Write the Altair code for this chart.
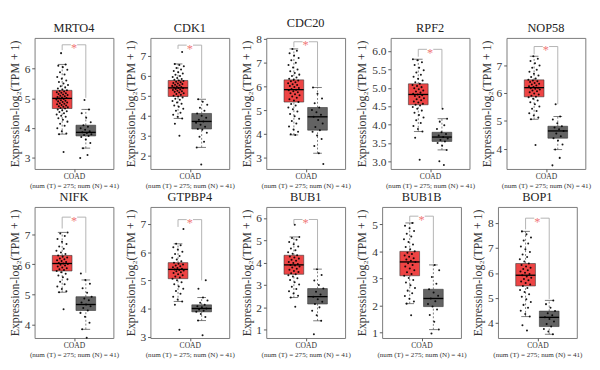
import altair as alt
import pandas as pd

genes = ["MRTO4", "CDK1", "CDC20", "RPF2", "NOP58", "NIFK", "GTPBP4", "BUB1", "BUB1B", "BOP1"]

# y-axis ranges and tick values
y_min = [2.63, 1.34, 2.54, 2.79, 3.27, 3.54, 2.95, 0.63, 0.80, 3.39]
y_max = [7.03, 7.90, 8.04, 6.36, 7.99, 7.92, 7.61, 6.49, 5.64, 8.65]
y_ticks = [
    [3, 4, 5, 6], [2, 3, 4, 5, 6, 7], [3, 4, 5, 6, 7, 8],
    [3.0, 3.5, 4.0, 4.5, 5.0, 5.5, 6.0], [4, 5, 6, 7], [4, 5, 6, 7],
    [3, 4, 5, 6, 7], [1, 2, 3, 4, 5, 6], [1, 2, 3, 4, 5], [4, 5, 6, 7, 8],
]
y_fmt = ["d", "d", "d", ".1f", "d", "d", "d", "d", "d", "d"]

# box statistics: tumor (T) and normal (N)
t_lo = [3.80, 3.87, 3.97, 3.81, 5.06, 5.07, 4.25, 2.44, 2.07, 4.25]
t_q1 = [4.66, 4.97, 5.35, 4.54, 5.87, 5.78, 5.06, 3.48, 3.10, 5.48]
t_med = [5.00, 5.40, 5.87, 4.82, 6.20, 6.03, 5.39, 3.90, 3.61, 5.91]
t_q3 = [5.27, 5.77, 6.28, 5.11, 6.48, 6.30, 5.63, 4.33, 4.00, 6.38]
t_hi = [6.14, 6.60, 7.58, 5.78, 7.33, 7.07, 6.30, 5.15, 5.05, 7.67]
n_lo = [3.33, 2.42, 3.20, 3.31, 3.97, 3.83, 3.57, 1.40, 1.11, 3.54]
n_q1 = [3.74, 3.34, 4.17, 3.54, 4.38, 4.46, 3.88, 2.15, 1.96, 3.85]
n_med = [3.86, 3.72, 4.73, 3.66, 4.64, 4.66, 4.00, 2.48, 2.26, 4.22]
n_q3 = [4.10, 4.12, 5.12, 3.79, 4.81, 4.92, 4.13, 2.84, 2.60, 4.47]
n_hi = [4.63, 4.83, 5.96, 4.16, 5.16, 5.48, 4.39, 3.71, 3.50, 4.90]

# significance bracket (data units)
br_y = [6.80, 7.54, 7.88, 6.05, 7.68, 7.58, 7.16, 5.93, 5.30, 8.20]
br_left = [6.62, 7.35, 7.65, 5.85, 7.40, 7.20, 6.90, 5.72, 5.10, 7.75]
br_right = [5.02, 4.88, 6.00, 4.45, 5.60, 5.72, 5.00, 3.75, 3.55, 4.95]

# sample values
tumor_vals = [
    [3.2, 3.8, 3.82, 3.9, 4.0, 4.08, 4.15, 4.22, 4.28, 4.33, 4.38, 4.42, 4.46, 4.5, 4.54, 4.57, 4.6, 4.63, 4.66,
     4.68, 4.7, 4.72, 4.74, 4.76, 4.78, 4.8, 4.82, 4.84, 4.86, 4.88, 4.9, 4.92, 4.94, 4.96, 4.98, 5.0, 5.01, 5.03,
     5.05, 5.07, 5.09, 5.11, 5.13, 5.15, 5.17, 5.19, 5.21, 5.23, 5.25, 5.27, 5.3, 5.33, 5.37, 5.41, 5.45, 5.5, 5.55,
     5.6, 5.66, 5.72, 5.8, 5.88, 5.96, 6.05, 6.1, 6.14, 6.52],
    [3.0, 3.6, 3.87, 3.95, 4.05, 4.15, 4.25, 4.35, 4.45, 4.52, 4.6, 4.67, 4.74, 4.8, 4.86, 4.92, 4.97, 5.01, 5.05,
     5.09, 5.13, 5.17, 5.2, 5.23, 5.26, 5.29, 5.32, 5.35, 5.38, 5.4, 5.42, 5.44, 5.47, 5.5, 5.53, 5.56, 5.59, 5.62,
     5.65, 5.68, 5.71, 5.74, 5.77, 5.81, 5.85, 5.9, 5.95, 6.0, 6.06, 6.12, 6.18, 6.25, 6.32, 6.4, 6.48, 6.55, 6.6, 7.2],
    [3.97, 4.0, 4.1, 4.2, 4.32, 4.45, 4.55, 4.65, 4.75, 4.85, 4.95, 5.05, 5.12, 5.2, 5.27, 5.35, 5.41, 5.47, 5.53,
     5.58, 5.63, 5.68, 5.72, 5.76, 5.8, 5.84, 5.87, 5.9, 5.94, 5.98, 6.02, 6.06, 6.1, 6.14, 6.18, 6.22, 6.25, 6.28,
     6.33, 6.38, 6.44, 6.5, 6.57, 6.64, 6.72, 6.8, 6.9, 7.0, 7.1, 7.2, 7.3, 7.4, 7.5, 7.58],
    [3.04, 3.64, 3.81, 3.88, 3.96, 4.04, 4.12, 4.19, 4.26, 4.32, 4.38, 4.43, 4.48, 4.52, 4.54, 4.57, 4.6, 4.63,
     4.66, 4.69, 4.72, 4.75, 4.78, 4.8, 4.82, 4.84, 4.87, 4.9, 4.93, 4.96, 4.99, 5.02, 5.05, 5.08, 5.11, 5.15, 5.2,
     5.25, 5.3, 5.36, 5.42, 5.48, 5.55, 5.62, 5.7, 5.75, 5.78],
    [4.13, 5.06, 5.12, 5.2, 5.28, 5.36, 5.44, 5.52, 5.6, 5.67, 5.74, 5.8, 5.85, 5.87, 5.91, 5.95, 5.99, 6.03, 6.07,
     6.1, 6.13, 6.16, 6.18, 6.2, 6.22, 6.25, 6.28, 6.31, 6.34, 6.37, 6.4, 6.43, 6.46, 6.48, 6.53, 6.58, 6.64, 6.7,
     6.77, 6.84, 6.92, 7.0, 7.08, 7.16, 7.24, 7.33],
    [4.5, 5.07, 5.1, 5.18, 5.26, 5.34, 5.42, 5.5, 5.57, 5.63, 5.69, 5.74, 5.78, 5.81, 5.84, 5.87, 5.9, 5.93, 5.96,
     5.99, 6.01, 6.03, 6.05, 6.08, 6.11, 6.14, 6.17, 6.2, 6.23, 6.26, 6.3, 6.35, 6.4, 6.46, 6.52, 6.6, 6.68, 6.76,
     6.85, 6.95, 7.03, 7.07],
    [3.24, 4.13, 4.25, 4.32, 4.42, 4.52, 4.62, 4.7, 4.78, 4.86, 4.93, 5.0, 5.06, 5.1, 5.14, 5.18, 5.22, 5.26, 5.29,
     5.32, 5.35, 5.37, 5.39, 5.41, 5.44, 5.47, 5.5, 5.53, 5.56, 5.59, 5.63, 5.68, 5.74, 5.8, 5.87, 5.94, 6.02, 6.1,
     6.18, 6.25, 6.3, 6.83],
    [2.03, 2.44, 2.52, 2.62, 2.72, 2.82, 2.92, 3.02, 3.12, 3.22, 3.3, 3.38, 3.44, 3.48, 3.53, 3.58, 3.63, 3.68,
     3.73, 3.78, 3.83, 3.87, 3.9, 3.94, 3.98, 4.03, 4.08, 4.13, 4.18, 4.23, 4.28, 4.33, 4.4, 4.47, 4.55, 4.63, 4.72,
     4.82, 4.92, 5.02, 5.1, 5.15, 5.7],
    [1.64, 2.07, 2.15, 2.25, 2.35, 2.45, 2.55, 2.65, 2.75, 2.85, 2.94, 3.02, 3.1, 3.16, 3.23, 3.3, 3.37, 3.44, 3.5,
     3.56, 3.61, 3.65, 3.7, 3.75, 3.8, 3.85, 3.9, 3.95, 4.0, 4.08, 4.16, 4.25, 4.35, 4.45, 4.55, 4.65, 4.75, 4.85,
     4.95, 5.05],
    [3.69, 3.9, 4.25, 4.35, 4.48, 4.6, 4.72, 4.84, 4.95, 5.05, 5.15, 5.24, 5.32, 5.4, 5.48, 5.54, 5.6, 5.66, 5.71,
     5.76, 5.81, 5.86, 5.91, 5.96, 6.01, 6.06, 6.11, 6.16, 6.21, 6.26, 6.32, 6.38, 6.46, 6.55, 6.64, 6.74, 6.84,
     6.95, 7.06, 7.18, 7.3, 7.42, 7.55, 7.67],
]
normal_vals = [
    [3.0, 3.1, 3.33, 3.5, 3.62, 3.7, 3.74, 3.77, 3.8, 3.84, 3.86, 3.9, 3.95, 4.0, 4.05, 4.1, 4.2, 4.35, 4.5, 4.63, 4.95],
    [1.57, 2.42, 2.7, 2.95, 3.15, 3.3, 3.34, 3.45, 3.55, 3.65, 3.72, 3.8, 3.9, 4.0, 4.12, 4.25, 4.4, 4.55, 4.7, 4.83],
    [2.75, 3.2, 3.5, 3.8, 3.95, 4.1, 4.17, 4.3, 4.45, 4.6, 4.73, 4.82, 4.92, 5.02, 5.12, 5.3, 5.5, 5.7, 5.96],
    [2.9, 3.0, 3.31, 3.42, 3.5, 3.54, 3.58, 3.62, 3.66, 3.7, 3.74, 3.79, 3.88, 3.98, 4.08, 4.16, 4.43],
    [3.4, 3.67, 3.97, 4.15, 4.3, 4.38, 4.45, 4.55, 4.64, 4.7, 4.76, 4.81, 4.92, 5.05, 5.16, 5.6],
    [3.55, 3.83, 4.05, 4.25, 4.38, 4.46, 4.54, 4.6, 4.66, 4.73, 4.8, 4.86, 4.92, 5.05, 5.2, 5.35, 5.48, 5.7],
    [3.05, 3.57, 3.7, 3.8, 3.88, 3.92, 3.96, 4.0, 4.04, 4.08, 4.13, 4.2, 4.28, 4.39, 4.7, 5.0],
    [0.8, 1.4, 1.65, 1.85, 2.0, 2.15, 2.25, 2.36, 2.48, 2.58, 2.7, 2.84, 3.0, 3.2, 3.45, 3.71],
    [0.97, 1.11, 1.4, 1.65, 1.85, 1.96, 2.06, 2.16, 2.26, 2.36, 2.48, 2.6, 2.8, 3.05, 3.3, 3.5],
    [3.54, 3.65, 3.75, 3.85, 3.95, 4.05, 4.15, 4.22, 4.3, 4.38, 4.47, 4.6, 4.75, 4.9],
]

x_label = "COAD"
x_title = "(num (T) = 275; num (N) = 41)"
y_title = "Expression-log\u2082(TPM + 1)"

FONT = "Liberation Serif"
RED = "#EE4444"
GRAY = "#636363"


def panel(i):
    xs = alt.Scale(domain=[0, 1], nice=False, zero=False)
    ys = alt.Scale(domain=[y_min[i], y_max[i]], nice=False, zero=False)
    xaxis = alt.Axis(values=[0.5], labelExpr="'" + x_label + "'", title=x_title, grid=False,
                     domain=False, tickSize=3, tickColor="#555", labelFontSize=8, labelPadding=1,
                     titleFontSize=7.5, titleFontWeight="normal", titlePadding=1, labelColor="#333",
                     titleColor="#333", labelFont=FONT, titleFont=FONT)
    yaxis = alt.Axis(values=y_ticks[i], format=y_fmt[i], title=y_title, grid=False, domain=False,
                     tickSize=3, tickColor="#555", labelFontSize=12, labelPadding=2, labelColor="#333",
                     titleFontSize=12.5, titleFontWeight="normal", titlePadding=3, titleColor="#333",
                     labelFont=FONT, titleFont=FONT)

    def X(f):
        return alt.X(f, type="quantitative", scale=xs, axis=xaxis)

    def Y(f):
        return alt.Y(f, type="quantitative", scale=ys, axis=yaxis)

    stats = pd.DataFrame({
        "grp": ["T", "N"],
        "lo": [t_lo[i], n_lo[i]], "q1": [t_q1[i], n_q1[i]], "med": [t_med[i], n_med[i]],
        "q3": [t_q3[i], n_q3[i]], "hi": [t_hi[i], n_hi[i]],
    })
    sb = alt.Chart(stats).transform_calculate(
        xc="datum.grp == 'T' ? 0.35 : 0.65"
    ).transform_calculate(
        xl="datum.xc - 0.125", xr="datum.xc + 0.125", cl="datum.xc - 0.055", cr="datum.xc + 0.055"
    )
    color = alt.Color("grp:N", scale=alt.Scale(domain=["T", "N"], range=[RED, GRAY]), legend=None)

    wl = sb.mark_rule(color="#555", strokeDash=[2, 2], strokeWidth=0.8).encode(x=X("xc"), y=Y("lo"), y2="q1")
    wh = sb.mark_rule(color="#555", strokeDash=[2, 2], strokeWidth=0.8).encode(x=X("xc"), y=Y("q3"), y2="hi")
    cl = sb.mark_rule(color="#555", strokeWidth=0.8).encode(x=X("cl"), x2="cr", y=Y("lo"))
    ch = sb.mark_rule(color="#555", strokeWidth=0.8).encode(x=X("cl"), x2="cr", y=Y("hi"))
    box = sb.mark_rect(stroke="#333", strokeWidth=0.6).encode(x=X("xl"), x2="xr", y=Y("q1"), y2="q3",
                                                             color=color)

    pts = pd.DataFrame({"grp": ["T"] * len(tumor_vals[i]) + ["N"] * len(normal_vals[i]),
                        "v": tumor_vals[i] + normal_vals[i]})
    pc = alt.Chart(pts).transform_window(rn="row_number()").transform_calculate(
        xj="(datum.grp == 'T' ? 0.35 : 0.65) + ((datum.rn * 0.618034) % 1 - 0.5) * 0.15"
    ).mark_circle(size=4.5, color="black", opacity=0.9).encode(x=X("xj"), y=Y("v"))

    med = sb.mark_rule(color="black", strokeWidth=1.4).encode(x=X("xl"), x2="xr", y=Y("med"))

    br = pd.DataFrame({"by": [br_y[i]], "bl": [br_left[i]], "brr": [br_right[i]]})
    bb = alt.Chart(br)
    bc = "#A8A8A8"
    leg_l = bb.mark_rule(color=bc, strokeWidth=0.9).encode(x=X("a:Q"), y=Y("bl"), y2="by").transform_calculate(a="0.35")
    leg_r = bb.mark_rule(color=bc, strokeWidth=0.9).encode(x=X("a:Q"), y=Y("brr"), y2="by").transform_calculate(a="0.65")
    h1 = bb.mark_rule(color=bc, strokeWidth=0.9).encode(x=X("a:Q"), x2="b:Q", y=Y("by")).transform_calculate(a="0.35", b="0.46")
    h2 = bb.mark_rule(color=bc, strokeWidth=0.9).encode(x=X("a:Q"), x2="b:Q", y=Y("by")).transform_calculate(a="0.54", b="0.65")
    star = bb.mark_text(text="*", color="#F07878", fontSize=13, font=FONT, baseline="middle", dy=4).encode(
        x=X("a:Q"), y=Y("by")).transform_calculate(a="0.5")

    return alt.layer(wl, wh, cl, ch, box, pc, med, leg_l, leg_r, h1, h2, star).properties(
        width=83, height=138,
        title=alt.Title(genes[i], fontSize=13, fontWeight="normal", font=FONT, color="#222", offset=3),
    )


row1 = alt.hconcat(*[panel(i) for i in range(5)], spacing=4)
row2 = alt.hconcat(*[panel(i) for i in range(5, 10)], spacing=4)
chart = alt.vconcat(row1, row2, spacing=2).configure(font=FONT).configure_view(
    stroke="#777", strokeWidth=1).properties(padding=0, background="white")

chart.save("out.html", embed_options={"renderer": "svg", "actions": False})
